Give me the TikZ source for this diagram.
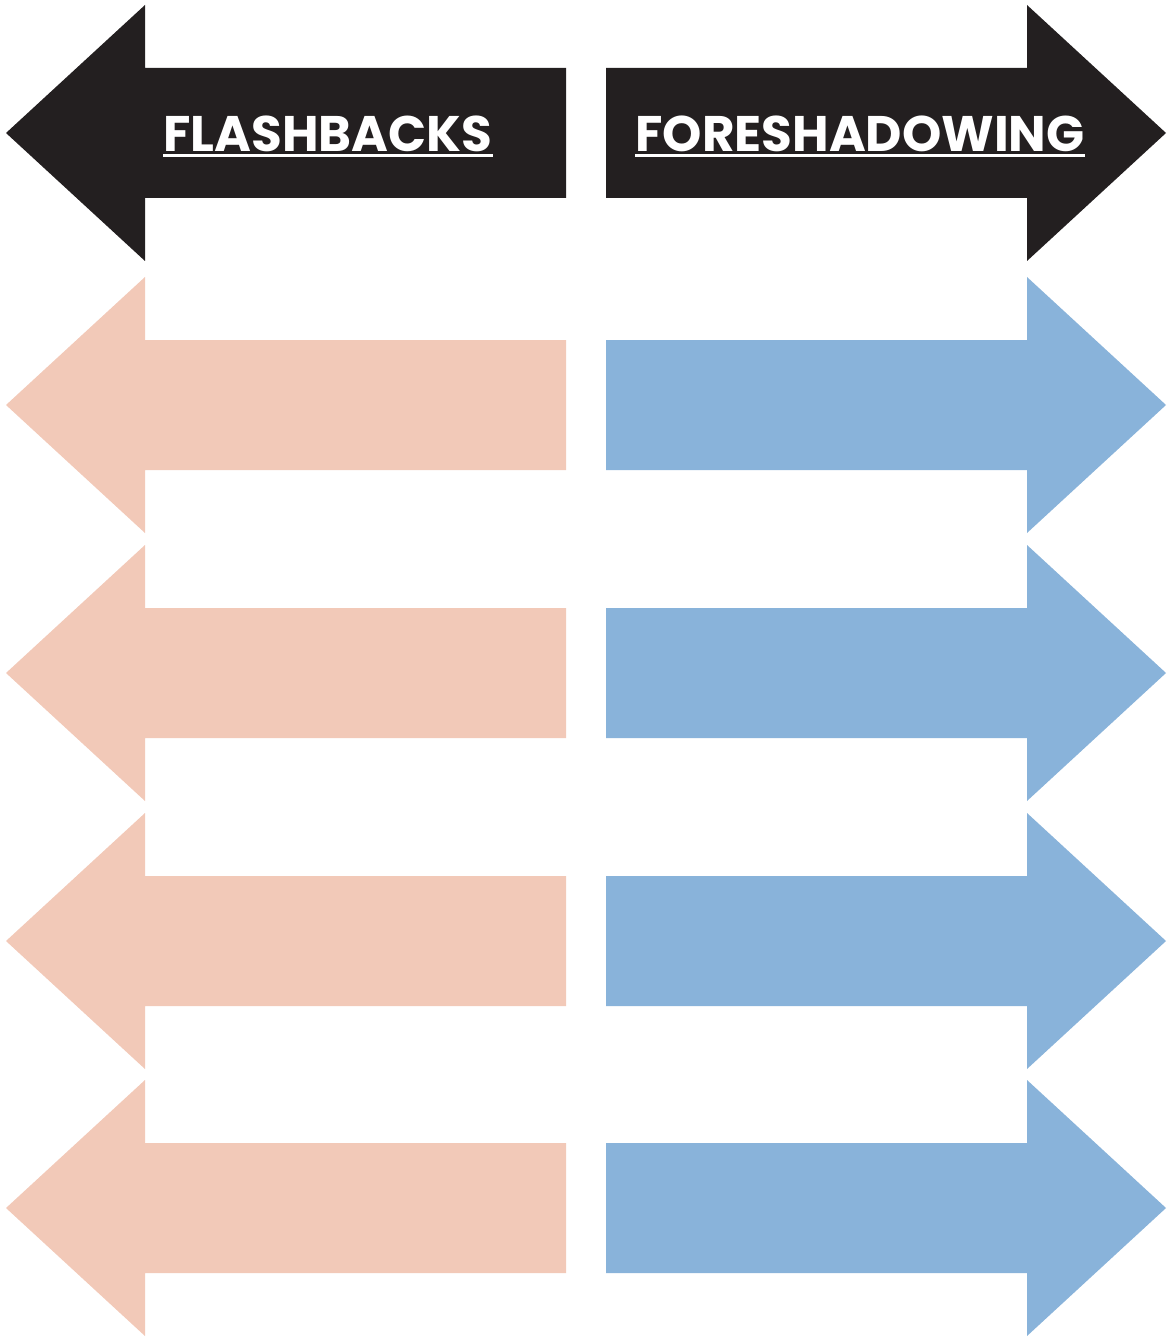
\documentclass[tikz,border=0pt]{standalone}
\usepackage{fontspec}
\newfontfamily\headfont{Poppins}[UprightFont=* Bold]
\definecolor{arrowblack}{HTML}{231F20}
\definecolor{peach}{HTML}{F2C9B8}
\definecolor{skyblue}{HTML}{89B3DA}
\begin{document}
\begin{tikzpicture}[x=1pt,y=-1pt,
  headtext/.style={text=white,font=\headfont\fontsize{50}{50}\selectfont,inner sep=0pt,anchor=base}]
\useasboundingbox (0,0) rectangle (1166,1337);
\foreach \c/\col in {133/arrowblack,405/peach,673/peach,941/peach,1208/peach}{
  \fill[\col] (566,\c-65) -- (145,\c-65) -- (145,\c-128) -- (6,\c) -- (145,\c+128) -- (145,\c+65) -- (566,\c+65) -- cycle;
}
\foreach \c/\col in {133/arrowblack,405/skyblue,673/skyblue,941/skyblue,1208/skyblue}{
  \fill[\col] (606,\c-65) -- (1027,\c-65) -- (1027,\c-128) -- (1166,\c) -- (1027,\c+128) -- (1027,\c+65) -- (606,\c+65) -- cycle;
}
\node[headtext] (fb) at (328,152) {FLASHBACKS};
\node[headtext] (fs) at (860,152) {FORESHADOWING};
\draw[white,line width=2.2pt] (fb.base west) ++(0,3.5) coordinate (fbu) -- (fb.base east |- fbu);
\draw[white,line width=2.2pt] (fs.base west) ++(0,3.5) coordinate (fsu) -- (fs.base east |- fsu);
\end{tikzpicture}
\end{document}
